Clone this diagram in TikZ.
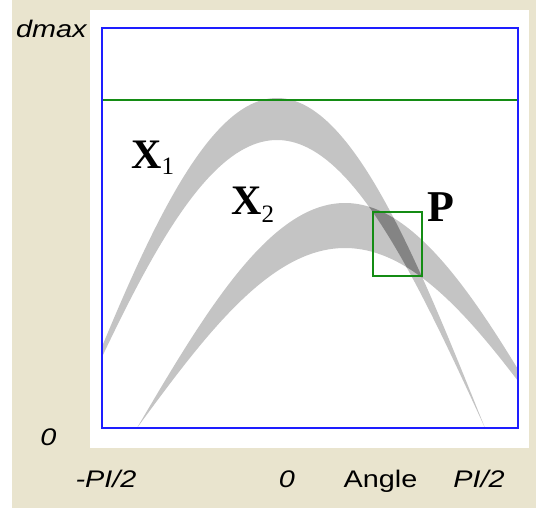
\documentclass[tikz,border=0pt]{standalone}
\usepackage{fontspec}
\setmainfont{Liberation Serif}
\newfontfamily\axfont{Liberation Sans}
\definecolor{beige}{RGB}{233,228,206}
\definecolor{bandlight}{RGB}{196,196,196}
\definecolor{banddark}{RGB}{132,132,132}
\definecolor{frameblue}{RGB}{30,30,255}
\definecolor{plotgreen}{RGB}{20,140,20}
\begin{document}
\begin{tikzpicture}[x=1pt,y=-1pt,
  axlabel/.style={font=\axfont\fontsize{24}{24}\selectfont, inner sep=0pt, anchor=base},
  setlabel/.style={font=\bfseries\fontsize{42}{42}\selectfont, inner sep=0pt, anchor=base west},
  subl/.style={font=\fontsize{25}{25}\selectfont},
  greenline/.style={draw=plotgreen, line width=1.4pt},
  framestyle/.style={draw=frameblue, line width=2pt}]
\useasboundingbox (0,0) rectangle (536,513);
\fill[white] (0,0) rectangle (536,513);
\fill[beige] (12,0) rectangle (536,508);
\fill[white] (90,10) rectangle (529,448);
\coordinate (fTL) at (102,28);
\coordinate (fBR) at (518,428);
\coordinate (gl) at (102,100);
\coordinate (gr) at (518,100);
\begin{scope}
  \clip (fTL) rectangle (fBR);
  % band of X1
  \fill[bandlight] plot[domain=102:485,samples=150] (\x,{428-330*cos((\x-102)*0.432692-75.73)})
     -- plot[domain=485:102,samples=150] (\x,{428-288*cos((\x-102)*0.432692-75.73)}) -- cycle;
  % band of X2
  \fill[bandlight] plot[domain=137:518,samples=150] (\x,{428-225*cos((\x-102)*0.432692-105.13)})
     -- plot[domain=518:137,samples=150] (\x,{428-180*cos((\x-102)*0.432692-105.13)}) -- cycle;
  % intersection
  \begin{scope}
    \clip plot[domain=137:518,samples=150] (\x,{428-225*cos((\x-102)*0.432692-105.13)})
     -- plot[domain=518:137,samples=150] (\x,{428-180*cos((\x-102)*0.432692-105.13)}) -- cycle;
    \fill[banddark] plot[domain=102:485,samples=150] (\x,{428-330*cos((\x-102)*0.432692-75.73)})
     -- plot[domain=485:102,samples=150] (\x,{428-288*cos((\x-102)*0.432692-75.73)}) -- cycle;
  \end{scope}
\end{scope}
\draw[greenline] (gl) -- (gr);
\draw[greenline] (373,212) rectangle (422,276);
\draw[framestyle] (fTL) rectangle (fBR);
% labels
\node[axlabel, anchor=base west] (dmax) at (16,38) {\scalebox{1.2}[1]{\itshape dmax}};
\node[axlabel] (zeroy) at (48.5,445) {\scalebox{1.2}[1]{\itshape 0}};
\node[axlabel] (mpi) at (106,487) {\scalebox{1.2}[1]{\itshape -PI/2}};
\node[axlabel] (zerox) at (287,487) {\scalebox{1.2}[1]{\itshape 0}};
\node[axlabel] (angle) at (380.5,487) {\scalebox{1.2}[1]{Angle}};
\node[axlabel] (ppi) at (479,487) {\scalebox{1.2}[1]{\itshape PI/2}};
\node[setlabel] (x1) at (131,169) {X\raisebox{-6pt}{\fontsize{25}{25}\selectfont\mdseries 1}};
\node[setlabel] (x2) at (231,215) {X\raisebox{-8pt}{\fontsize{25}{25}\selectfont\mdseries 2}};
\node[setlabel, font=\bfseries\fontsize{44}{44}\selectfont] (p) at (427,222) {P};
\end{tikzpicture}
\end{document}
